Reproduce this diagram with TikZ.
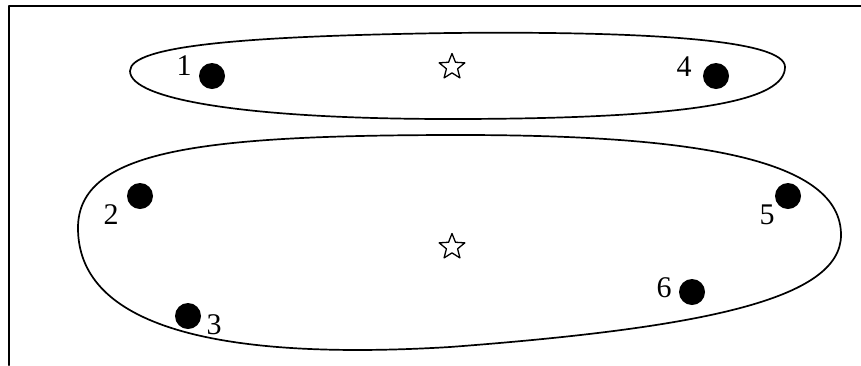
\documentclass[tikz,border=0pt]{standalone}
\usepackage{fontspec}
\setmainfont{Liberation Serif}
\usetikzlibrary{shapes.geometric}
\tikzset{
  dot/.style={circle, fill=black, minimum size=26pt, inner sep=0pt},
  num/.style={font=\fontsize{30}{30}\selectfont, inner sep=0pt},
  centre/.style={star, star points=5, star point ratio=2.3, draw, line width=1.3pt, minimum size=27pt, inner sep=0pt},
  cluster/.style={line width=1.7pt}
}
\begin{document}
\begin{tikzpicture}[x=1pt, y=-1pt, line join=round, line cap=round]
			\useasboundingbox (0,0) rectangle (861,365);
			\draw[line width=2.3pt] (9,365) -- (9,6) -- (861,6);
			% upper cluster
			\draw[cluster] (130,71) .. controls (130,45) and (250,36) .. (450,33)
			.. controls (650,31) and (785,40) .. (785,67)
			.. controls (785,100) and (700,119) .. (450,119)
			.. controls (250,119) and (130,100) .. (130,71) -- cycle;
			% lower cluster
			\draw[cluster] (460,135) .. controls (700,135) and (841,160) .. (841,235)
			.. controls (841,300) and (700,328) .. (450,347)
			.. controls (200,362) and (78,320) .. (78,228)
			.. controls (78,150) and (200,135) .. (460,135) -- cycle;
			\node[centre] (c1) at (452,67) {};
			\node[centre] (c2) at (452,247) {};
			\node[dot] (d1) at (212,76) {};
			\node[dot] (d2) at (140,196) {};
			\node[dot] (d3) at (188,316) {};
			\node[dot] (d4) at (716,76) {};
			\node[dot] (d5) at (788,196) {};
			\node[dot] (d6) at (692,292) {};
			\node[num] (n1) at (184,66) {1};
			\node[num] (n2) at (111,215) {2};
			\node[num] (n3) at (214,325) {3};
			\node[num] (n4) at (684,67) {4};
			\node[num] (n5) at (767,215) {5};
			\node[num] (n6) at (664,288) {6};
		\end{tikzpicture}
\end{document}
